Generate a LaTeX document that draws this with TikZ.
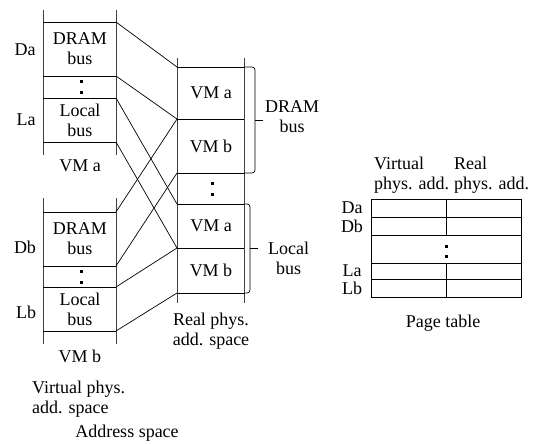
\documentclass[tikz,border=0pt]{standalone}
\usepackage{fontspec}
\setmainfont{Liberation Serif}
\newfontfamily\serf{Liberation Serif}
\begin{document}
\begin{tikzpicture}[x=1pt,y=-1pt,
  ln/.style={line width=0.7pt},
  rail/.style={line width=1pt, black!75},
  txt/.style={font=\serf\fontsize{18}{20}\selectfont, inner sep=0pt, align=center},
  txtl/.style={font=\serf\fontsize{18}{20}\selectfont, inner sep=0pt, align=left},
  dotsq/.style={fill=black, minimum size=3pt, inner sep=0pt}]
\useasboundingbox (0,0) rectangle (536,444);

% ---------- left column VM a ----------
\draw[rail] (43,10) -- (43,155);
\draw[rail] (116,10) -- (116,155);
\coordinate (a0) at (116,22);
\coordinate (a1) at (116,76);
\coordinate (a2) at (116,98);
\coordinate (a3) at (116,142);
\draw[ln] (43,22) -- (a0);
\draw[ln] (43,76) -- (a1);
\draw[ln] (43,98) -- (a2);
\draw[ln] (43,142) -- (a3);
\node[txt] (adram) at (80,49) {DRAM\\bus};
\node[txt] (aloc) at (80,120) {Local\\bus};
\node[dotsq] (ad1) at (81,82) {};
\node[dotsq] (ad2) at (81,93) {};
\node[txt] (Da) at (25,50) {Da};
\node[txt] (La) at (26,120) {La};
\node[txt] (vma) at (80,166) {VM a};

% ---------- left column VM b ----------
\draw[rail] (43,198) -- (43,344);
\draw[rail] (116,198) -- (116,344);
\coordinate (b0) at (116,212);
\coordinate (b1) at (116,266);
\coordinate (b2) at (116,287);
\coordinate (b3) at (116,331);
\draw[ln] (43,212) -- (b0);
\draw[ln] (43,266) -- (b1);
\draw[ln] (43,287) -- (b2);
\draw[ln] (43,331) -- (b3);
\node[txt] (bdram) at (80,239) {DRAM\\bus};
\node[txt] (bloc) at (80,309) {Local\\bus};
\node[dotsq] (bd1) at (81,271) {};
\node[dotsq] (bd2) at (81,282) {};
\node[txt] (Db) at (25,247) {Db};
\node[txt] (Lb) at (26,312) {Lb};
\node[txt] (vmb) at (80,356) {VM b};

\node[txtl, anchor=west] (vpas) at (32,399) {Virtual phys.\\add. space};
\node[txt] (addr) at (127,433) {Address space};

% ---------- right column (real phys.) ----------
\draw[rail] (177,58) -- (177,303);
\draw[rail] (244,58) -- (244,303);
\coordinate (r0) at (177,67);
\coordinate (r1) at (177,119);
\coordinate (r2) at (177,173);
\coordinate (r3) at (177,204);
\coordinate (r4) at (177,248);
\coordinate (r5) at (177,293);
\foreach \c/\y in {r0/67,r1/119,r2/173,r3/204,r4/248,r5/293}
  \draw[ln] (\c) -- (244,\y);
\node[txt] (rva1) at (211,93) {VM a};
\node[txt] (rvb1) at (211,146) {VM b};
\node[txt] (rva2) at (211,226) {VM a};
\node[txt] (rvb2) at (211,270) {VM b};
\node[dotsq] (rd1) at (212,183) {};
\node[dotsq] (rd2) at (212,194) {};
\node[txt] (rpas) at (211,331) {Real phys.\\add. space};

% brackets
\draw[ln, rounded corners=3pt] (244,67) -- (255,67) -- (255,173) -- (244,173);
\coordinate (dt) at (263,120);
\draw[ln] (255,120) -- (dt);
\node[txt, anchor=west] (dramlab) at (265,117) {DRAM\\bus};
\draw[ln, rounded corners=3pt] (244,204) -- (250,204) -- (250,293) -- (244,293);
\coordinate (lt) at (258,248);
\draw[ln] (250,248) -- (lt);
\node[txt, anchor=west] (loclab) at (268,258) {Local\\bus};

% connectors
\draw[ln] (a0) -- (r0);
\draw[ln] (a1) -- (r1);
\draw[ln] (a2) -- (r3);
\draw[ln] (a3) -- (r4);
\draw[ln] (b0) -- (r1);
\draw[ln] (b1) -- (r2);
\draw[ln] (b2) -- (r4);
\draw[ln] (b3) -- (r5);

% ---------- page table ----------
\draw[ln] (371,199) rectangle (521,297);
\foreach \y in {217,235,263,279} \draw[ln] (371,\y) -- (521,\y);
\draw[ln] (446,199) -- (446,235);
\draw[ln] (446,263) -- (446,297);
\node[dotsq] (pd1) at (446,246) {};
\node[dotsq] (pd2) at (446,256) {};
\node[txt] (pDa) at (352,208) {Da};
\node[txt] (pDb) at (352,226) {Db};
\node[txt] (pLa) at (352,271) {La};
\node[txt] (pLb) at (352,288) {Lb};
\node[txtl, anchor=west] (hv) at (374,175) {Virtual\\phys. add.};
\node[txtl, anchor=west] (hr) at (454,175) {Real\\phys. add.};
\node[txt] (ptab) at (443,323) {Page table};
\end{tikzpicture}
\end{document}
